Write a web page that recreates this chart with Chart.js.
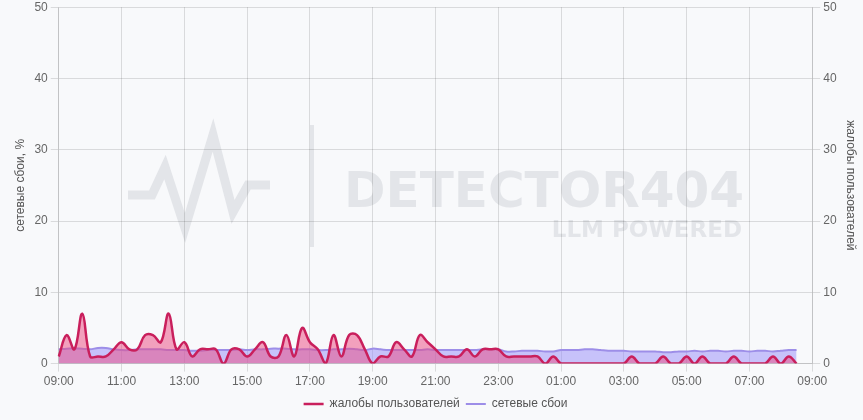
<!DOCTYPE html>
<html lang="ru">
<head>
    <meta charset="UTF-8">
    <title>Жалобы и сетевые сбои</title>
    <script src="https://cdn.jsdelivr.net/npm/chart.js"></script>
    <style>
        html, body {
            margin: 0;
            padding: 0;
            background-color: #f8f9fb;
            font-family: 'Liberation Sans', Arial, sans-serif;
            overflow: hidden;
        }
        #wrap {
            width: 863px;
            height: 423px;
            margin-top: -3px;
        }
    </style>
</head>
<body>
    <div id="wrap"><canvas id="chart"></canvas></div>
    <script>
        // time axis: 15-minute steps from 09:00 to 09:00 next day
        const startHour = 9;
        const stepsPerDay = 96;
        const timeLabels = [];
        for (let i = 0; i <= stepsPerDay; i++) {
            const mins = (startHour * 60 + i * 15) % (24 * 60);
            const h = String(Math.floor(mins / 60)).padStart(2, '0');
            const m = String(mins % 60).padStart(2, '0');
            timeLabels.push(h + ':' + m);
        }

        // user complaints (right axis), 09:00 .. 08:30
        const complaints = [
            1, 4, 2, 7, 1, 1, 1, 2, 3, 2, 2, 4, 4, 3, 7, 2,
            3, 1, 2, 2, 2, 0, 2, 2, 1, 2, 3, 1, 1, 4, 1, 5,
            3, 2, 0, 4, 1, 4, 4, 2, 0, 1, 1, 3, 2, 1, 4, 3,
            2, 1, 1, 1, 2, 1, 2, 2, 2, 1, 1, 1, 1, 1, 0, 1,
            0, 0, 0, 0, 0, 0, 0, 0, 0, 1, 0, 0, 0, 1, 0, 0,
            1, 0, 1, 0, 0, 0, 1, 0, 0, 0, 0, 1, 0, 1, 0
        ];

        // network failures, % (left axis), 09:00 .. 08:30
        const failures = [
            2.0, 2.1, 2.1, 2.1, 2.0, 2.2, 2.2, 2.0,
            1.9, 1.9, 2.0, 2.0, 2.0, 2.0, 1.9, 1.9,
            1.9, 1.8, 1.8, 1.9, 1.9, 1.9, 1.9, 2.0,
            1.9, 2.0, 2.0, 2.1, 2.1, 2.1, 2.0, 2.0,
            2.0, 1.9, 1.9, 2.0, 2.0, 2.1, 2.0, 1.9,
            2.1, 2.0, 1.9, 1.9, 1.9, 1.9, 1.9, 2.0,
            1.9, 1.9, 1.9, 1.9, 1.9, 1.9, 2.0, 2.0,
            2.0, 1.7, 1.7, 1.8, 1.8, 1.8, 1.7, 1.7,
            1.9, 1.9, 1.9, 2.0, 2.0, 1.9, 1.8, 1.8,
            1.8, 1.7, 1.7, 1.7, 1.7, 1.6, 1.6, 1.7,
            1.7, 1.8, 1.7, 1.8, 1.8, 1.7, 1.8, 1.8,
            1.7, 1.8, 1.8, 1.7, 1.8, 1.9, 1.9
        ];

        const yTicks = [0, 10, 20, 30, 40, 50];

        // faint brand watermark behind the plot (canvas is shifted up 3px)
        const watermark = {
            id: 'watermark',
            beforeDraw(chart) {
                const ctx = chart.ctx;
                ctx.save();
                ctx.fillStyle = '#f8f9fb';
                ctx.fillRect(0, 0, chart.width, chart.height);
                ctx.translate(0, 3);
                ctx.strokeStyle = '#e3e5e9';
                ctx.lineWidth = 9;
                ctx.lineJoin = 'miter';
                ctx.beginPath();
                ctx.moveTo(128, 195);
                ctx.lineTo(152, 195);
                ctx.lineTo(165, 167);
                ctx.lineTo(185, 228);
                ctx.lineTo(213, 135);
                ctx.lineTo(233, 212);
                ctx.lineTo(248, 185);
                ctx.lineTo(270, 185);
                ctx.stroke();
                ctx.fillStyle = '#e3e5e9';
                ctx.fillRect(310, 125, 4, 122);
                ctx.textBaseline = 'alphabetic';
                ctx.textAlign = 'left';
                ctx.font = 'bold 50px "DejaVu Sans", sans-serif';
                ctx.fillText('DETECTOR404', 344, 207);
                ctx.textAlign = 'right';
                ctx.font = 'bold 23px "DejaVu Sans", sans-serif';
                ctx.fillText('LLM POWERED', 742, 237);
                ctx.restore();
            }
        };

        const ctx = document.getElementById('chart').getContext('2d');
        new Chart(ctx, {
            type: 'line',
            data: {
                labels: timeLabels,
                datasets: [
                    {
                        label: 'жалобы пользователей',
                        data: complaints,
                        yAxisID: 'yRight',
                        borderColor: '#c91f5c',
                        backgroundColor: 'rgba(236, 72, 128, 0.5)',
                        borderWidth: 2.5,
                        fill: 'origin',
                        tension: 0.4,
                        pointRadius: 0
                    },
                    {
                        label: 'сетевые сбои',
                        data: failures,
                        yAxisID: 'yLeft',
                        borderColor: '#9d8ee8',
                        backgroundColor: 'rgba(150, 140, 250, 0.5)',
                        borderWidth: 2,
                        fill: 'origin',
                        tension: 0.4,
                        pointRadius: 0
                    }
                ]
            },
            options: {
                responsive: true,
                maintainAspectRatio: false,
                animation: false,
                layout: { padding: { top: 0, left: 9, right: 1, bottom: 0 } },
                plugins: {
                    legend: {
                        position: 'bottom',
                        labels: {
                            color: '#555',
                            font: { size: 12 },
                            padding: 6,
                            usePointStyle: true,
                            pointStyle: 'line',
                            pointStyleWidth: 20,
                            boxHeight: 8
                        }
                    },
                    tooltip: { enabled: false }
                },
                scales: {
                    x: {
                        ticks: {
                            autoSkip: false,
                            maxRotation: 0,
                            color: '#666',
                            font: { size: 12 },
                            callback: function (val, index) {
                                return index % 8 === 0 ? timeLabels[index] : null;
                            }
                        },
                        grid: { color: 'rgba(0,0,0,0.12)' }
                    },
                    yLeft: {
                        position: 'left',
                        min: 0,
                        max: 50,
                        afterBuildTicks: axis => { axis.ticks = yTicks.map(v => ({ value: v })); },
                        ticks: { color: '#666', font: { size: 12 } },
                        grid: { color: 'rgba(0,0,0,0.12)' },
                        title: {
                            display: true,
                            text: 'сетевые сбои, %',
                            color: '#555',
                            font: { size: 12 }
                        }
                    },
                    yRight: {
                        position: 'right',
                        min: 0,
                        max: 50,
                        afterBuildTicks: axis => { axis.ticks = yTicks.map(v => ({ value: v })); },
                        ticks: { color: '#666', font: { size: 12 } },
                        grid: { drawOnChartArea: false, color: 'rgba(0,0,0,0.12)' },
                        title: {
                            display: true,
                            text: 'жалобы пользователей',
                            color: '#555',
                            font: { size: 12 }
                        }
                    }
                }
            },
            plugins: [watermark]
        });
    </script>
</body>
</html>
